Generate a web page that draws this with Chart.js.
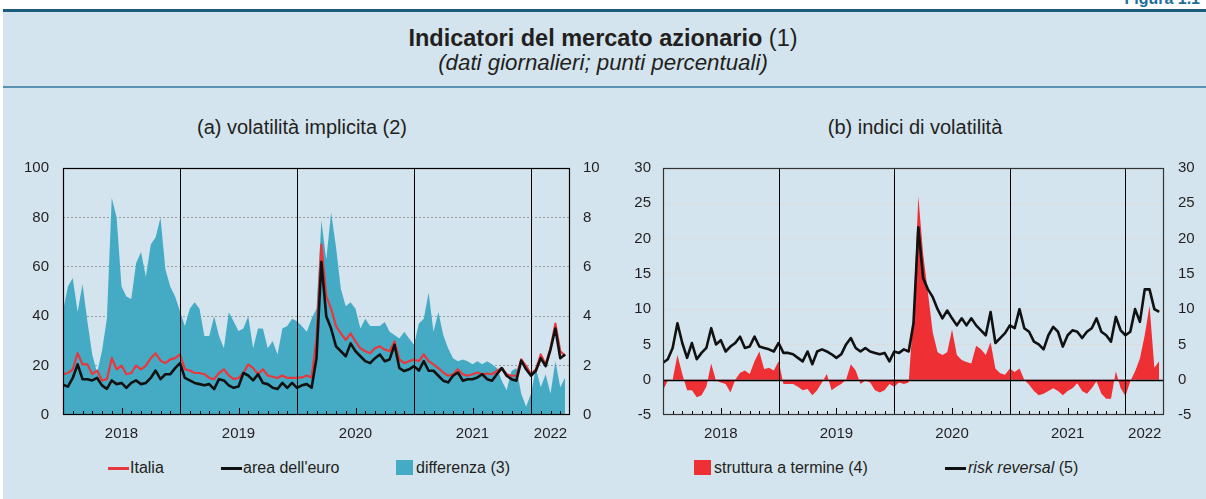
<!DOCTYPE html>
<html><head><meta charset="utf-8">
<script src="https://cdn.jsdelivr.net/npm/chart.js@4.4.1/dist/chart.umd.min.js"></script>
<style>
html,body{margin:0;padding:0;background:#fff;}
body{width:1206px;height:499px;position:relative;overflow:hidden;font-family:"Liberation Sans",Arial,Helvetica,sans-serif;color:#231f20;}
#panel{position:absolute;left:3px;top:12px;width:1203px;height:487px;background:#d3e4ee;}
#topline{position:absolute;left:3px;top:9px;width:1203px;height:3px;background:#1b5c7c;}
#midline{position:absolute;left:3px;top:86px;width:1203px;height:2px;background:#5a90b2;}
#fig{position:absolute;right:6px;top:-9px;font-size:16px;line-height:16px;font-weight:bold;color:#1f6e97;}
#title{position:absolute;left:0;top:26px;width:1206px;text-align:center;font-size:23.5px;line-height:24px;}
#title b{font-weight:bold;}
#sub{position:absolute;left:0;top:51px;width:1206px;text-align:center;font-size:22.3px;line-height:24px;font-style:italic;}
.ct{position:absolute;top:115px;font-size:20px;line-height:24px;transform:translateX(-50%);white-space:nowrap;}
.box{position:absolute;top:145px;height:300px;}
.lg{position:absolute;top:459px;font-size:16px;line-height:18px;white-space:nowrap;}
.ln{position:absolute;height:3px;top:467px;}
.sq{position:absolute;top:460px;width:17px;height:15px;}
</style></head>
<body>
<div id="fig">Figura 1.1</div>
<div id="panel"></div>
<div id="topline"></div>
<div id="midline"></div>
<div id="title"><b>Indicatori del mercato azionario</b> (1)</div>
<div id="sub">(dati giornalieri; punti percentuali)</div>
<div class="ct" style="left:302px">(a) volatilità implicita (2)</div>
<div class="ct" style="left:915px">(b) indici di volatilità</div>
<div class="box" style="left:0;width:615px"><canvas id="c1"></canvas></div>
<div class="box" style="left:610px;width:596px"><canvas id="c2"></canvas></div>

<div class="ln" style="left:108px;width:21px;background:#e8383d"></div>
<div class="lg" style="left:130px">Italia</div>
<div class="ln" style="left:221px;width:21px;background:#111"></div>
<div class="lg" style="left:243px">area dell'euro</div>
<div class="sq" style="left:396px;background:#45abc5"></div>
<div class="lg" style="left:416px">differenza (3)</div>
<div class="sq" style="left:694px;background:#ee2f33"></div>
<div class="lg" style="left:714px">struttura a termine (4)</div>
<div class="ln" style="left:945px;width:21px;background:#111"></div>
<div class="lg" style="left:968px"><i>risk reversal</i> (5)</div>

<script>
// Semi-monthly readings, Jan 2018 - Apr 2022 (104 points each)
const italia = [
 16.5,17,18.5,25,20.5,20.5,16.5,18,14,14.5,23,18.5,20,16.5,17,20,18.5,20,23,25,22,21,22.5,23,
 24.5,18.5,18,17,17,16.5,15,14.5,17,18.5,16,14.5,15,17,20.5,19,16.5,18.5,16,15.5,15,16,15,15,
 15,15.2,16,15.2,31,69,48,43,36,33,30.4,33,29.8,27,25.8,25,27,27.8,26.5,25.8,29.8,22.5,21,21.8,
 22.5,21.8,24.5,21.8,20.5,19,17.2,15.9,16.5,18.5,16.5,15.9,16.5,17.2,16.5,16.8,16.5,17.9,19,16.5,15.9,15.9,22.5,19.8,
 16.5,18.5,24.5,20.5,27,37,25.8,24
];
const euro = [
 12.3,11.5,15,20.5,14.5,14.5,14,15,12,10.6,14,12.5,13,11,13,14,12.5,13,15,18,14.5,16.5,16.5,19,
 21,15,14,13,12.5,12,12.5,10.5,14.5,14,12,11,11.5,17,16,14,16.5,13,12.5,11,10.5,13,11,13,
 11,12,12.5,11,23,62,40,35,27.8,25.8,23.8,29,25.8,23.8,21.8,21,23,24.5,21.8,22.5,28.4,19,17.8,18.5,
 19.8,18,21.8,17.9,17.9,15.9,13.9,13.2,15.9,17.2,13.9,14.5,14.5,15.2,16.5,14.5,13.9,16.5,19,15.9,14.5,13.9,22,18.5,
 15.9,17.9,23,19.8,26.5,35,23,24.5
];
const differenza = [
 4.2,5.2,5.55,4.17,5.3,3.8,2.45,1.7,2.6,3.9,8.8,8.0,5.2,4.8,4.7,6.15,6.6,5.6,6.9,7.2,8.0,5.9,5.2,4.8,
 4.2,3.6,4.3,4.56,4.3,3.2,3.2,4.0,3.2,2.7,4.16,3.8,3.4,3.5,4.0,2.7,3.5,3.5,2.7,3.0,2.45,3.5,3.6,3.9,
 3.8,3.6,3.37,3.9,4.3,7.87,6.3,8.2,6.8,5.1,4.4,4.56,4.3,3.5,3.9,3.6,3.6,3.6,3.77,3.37,3.24,3.1,3.37,3.1,
 2.84,3.7,3.9,4.96,3.37,4.17,3.24,2.7,2.3,2.18,2.25,2.18,2.05,2.18,2.05,2.18,2.05,1.9,1.39,1.0,1.78,1.9,0.86,0.33,
 0.86,1.9,1.12,1.65,0.86,2.18,1.12,1.52
];
const riskReversal = [
 2.4,2.9,4.5,8,5.2,3.1,5.2,2.9,3.8,4.5,7.3,5,5.6,4,4.7,5.2,6.1,4.5,4.7,6.1,4.7,4.5,4.3,4,
 5.2,3.8,3.8,3.6,3.1,2.6,4,2.2,4,4.3,4,3.6,3.1,3.6,5,5.9,4.5,4,4.5,4,3.8,3.6,3.8,2.6,
 4,3.8,4.3,4,8,21.6,14.4,12.8,11.7,10,8.7,9.8,8.7,7.7,8.7,7.7,8.7,7.7,7,6.3,9.6,5.2,5.9,6.6,
 7.7,7.3,10,7.3,6.8,5.4,5,4.3,6.3,7.5,6.8,4.7,6.3,7,6.8,5.9,6.8,7.3,8.7,6.8,6.3,5.4,8.9,7,
 6.3,6.8,10,8.2,12.8,12.8,10,9.6
];
const struttura = [
 -1.5,-0.1,0,3.5,0.8,-1.5,-1.5,-2.5,-2.2,-1,2.3,-0.1,-0.4,-0.6,-1.8,0,1,1.3,0.8,2.6,4,1.5,1.7,1.3,
 2.6,-0.6,-0.6,-0.6,-1,-1.5,-1.3,-2.2,-1.5,-0.4,0.8,-1.5,-1,-0.6,0,2.2,1.3,-0.6,-0.1,-0.4,-1.5,-1.8,-1.5,-0.6,
 -1,-0.4,-0.6,-0.4,9.6,26,17.8,12.3,6.7,3.9,3.5,3.9,7.1,3.5,2.8,2.5,2.3,4.8,4.3,3.5,5.3,1.6,0.9,0.7,
 1.6,1.1,1.6,0,-0.7,-1.6,-2.2,-2,-1.6,-1.2,-1.6,-2.2,-1.6,-1.2,-0.5,-1.6,-2,-1.2,-0.2,-2,-2.7,-2.7,1.2,-1.2,
 -2.3,-0.2,1.2,3,6.3,10.5,1.7,2.6
];
// x axis: months since January 2018
const samplePos = italia.map((_, i) => i * 0.5);
const yearLabels = ['2018', '2019', '2020', '2021', '2022'];
const yearLabelPos = [6, 18, 30, 42, 50];
const yearBounds = [12, 24, 36, 48];
const xMax = 52;

const FONT = '"Liberation Sans", Arial, Helvetica, sans-serif';
const TXT = '#231f20';
const pts = arr => arr.map((v, i) => ({x: samplePos[i], y: v}));
const fixW = w => s => { s.width = w; };
const fixH = h => s => { s.height = h; };

const decor = {
  id: 'decor',
  afterDatasetsDraw(chart, args, opts) {
    const ctx = chart.ctx, a = chart.chartArea, x = chart.scales.x;
    ctx.save();
    ctx.lineWidth = 1;
    ctx.strokeStyle = '#000';
    const seg = (x1, y1, x2, y2) => { ctx.beginPath(); ctx.moveTo(x1, y1); ctx.lineTo(x2, y2); ctx.stroke(); };
    if (opts.zero) {
      const py = Math.round(chart.scales.y.getPixelForValue(0)) + 0.5;
      ctx.lineWidth = 1.3;
      seg(a.left, py, a.right, py);
      ctx.lineWidth = 1;
    }
    yearBounds.forEach(m => {
      const px = Math.round(x.getPixelForValue(m)) + 0.5;
      seg(px, a.top, px, a.bottom);
    });
    for (let m = 1; m < xMax; m++) {
      if (m % 12 === 0) continue;
      const px = Math.round(x.getPixelForValue(m)) + 0.5;
      const h = (m % 12 === 6) ? 7 : 4;
      seg(px, a.bottom, px, a.bottom - h);
    }
    ctx.strokeStyle = opts.color || '#000';
    ctx.lineWidth = 1.2;
    ctx.strokeRect(a.left + 0.5, a.top + 0.5, a.right - a.left - 1, a.bottom - a.top - 1);
    ctx.restore();
  }
};

const xAxis = () => ({
  type: 'linear', min: 0, max: xMax,
  afterBuildTicks: s => { s.ticks = yearLabelPos.map(v => ({value: v})); },
  afterFit: fixH(30),
  ticks: {autoSkip: false, maxRotation: 0, padding: 10, color: TXT,
    font: {family: FONT, size: 15}, callback: (v, i) => yearLabels[i]},
  grid: {display: false, drawTicks: false},
  border: {display: false}
});

new Chart(document.getElementById('c1'), {
  type: 'line',
  data: {datasets: [
    {label: "area dell'euro", data: pts(euro), yAxisID: 'y', borderColor: '#111', borderWidth: 2.6, pointRadius: 0, tension: 0, fill: false, borderJoinStyle: 'round'},
    {label: 'Italia', data: pts(italia), yAxisID: 'y', borderColor: '#e8383d', borderWidth: 2.2, pointRadius: 0, tension: 0, fill: false, borderJoinStyle: 'round'},
    {label: 'differenza (3)', data: pts(differenza), yAxisID: 'y2', borderWidth: 0, borderColor: 'rgba(0,0,0,0)', backgroundColor: '#45abc5', pointRadius: 0, tension: 0, fill: 'origin'}
  ]},
  options: {
    responsive: true, maintainAspectRatio: false, animation: false,
    layout: {padding: {top: 18, left: 0, right: 0, bottom: 0}},
    plugins: {legend: {display: false}, tooltip: {enabled: false}, decor: {color: '#000'}},
    scales: {
      x: xAxis(),
      y: {position: 'left', min: 0, max: 100, afterFit: fixW(63),
        ticks: {stepSize: 20, padding: 14, color: TXT, font: {family: FONT, size: 15}},
        grid: {drawTicks: false, lineWidth: 1, color: c => (c.tick.value > 0 && c.tick.value < 100) ? '#9c9c9c' : 'rgba(0,0,0,0)'},
        border: {display: false, dash: [2, 2]}},
      y2: {position: 'right', min: 0, max: 10, afterFit: fixW(45),
        ticks: {stepSize: 2, padding: 13, color: TXT, font: {family: FONT, size: 15}},
        grid: {display: false, drawTicks: false}, border: {display: false}}
    }
  },
  plugins: [decor]
});

new Chart(document.getElementById('c2'), {
  type: 'line',
  data: {datasets: [
    {label: 'risk reversal (5)', data: pts(riskReversal), yAxisID: 'y', borderColor: '#111', borderWidth: 2.6, pointRadius: 0, tension: 0, fill: false, borderJoinStyle: 'round'},
    {label: 'struttura a termine (4)', data: pts(struttura), yAxisID: 'y', borderWidth: 0, borderColor: 'rgba(0,0,0,0)', backgroundColor: '#ee2f33', pointRadius: 0, tension: 0, fill: 'origin'}
  ]},
  options: {
    responsive: true, maintainAspectRatio: false, animation: false,
    layout: {padding: {top: 18, left: 0, right: 0, bottom: 0}},
    plugins: {legend: {display: false}, tooltip: {enabled: false}, decor: {color: '#333', zero: true}},
    scales: {
      x: xAxis(),
      y: {position: 'left', min: -5, max: 30, afterFit: fixW(53),
        ticks: {stepSize: 5, padding: 12, color: TXT, font: {family: FONT, size: 15}, callback: v => String(v)},
        grid: {drawTicks: false, lineWidth: 1, color: c => (c.tick.value > 0 && c.tick.value < 30) ? '#dcdcdc' : 'rgba(0,0,0,0)'},
        border: {display: false}},
      y2: {position: 'right', min: -5, max: 30, afterFit: fixW(42),
        ticks: {stepSize: 5, padding: 14, color: TXT, font: {family: FONT, size: 15}, callback: v => String(v)},
        grid: {display: false, drawTicks: false}, border: {display: false}}
    }
  },
  plugins: [decor]
});
</script>
</body></html>
